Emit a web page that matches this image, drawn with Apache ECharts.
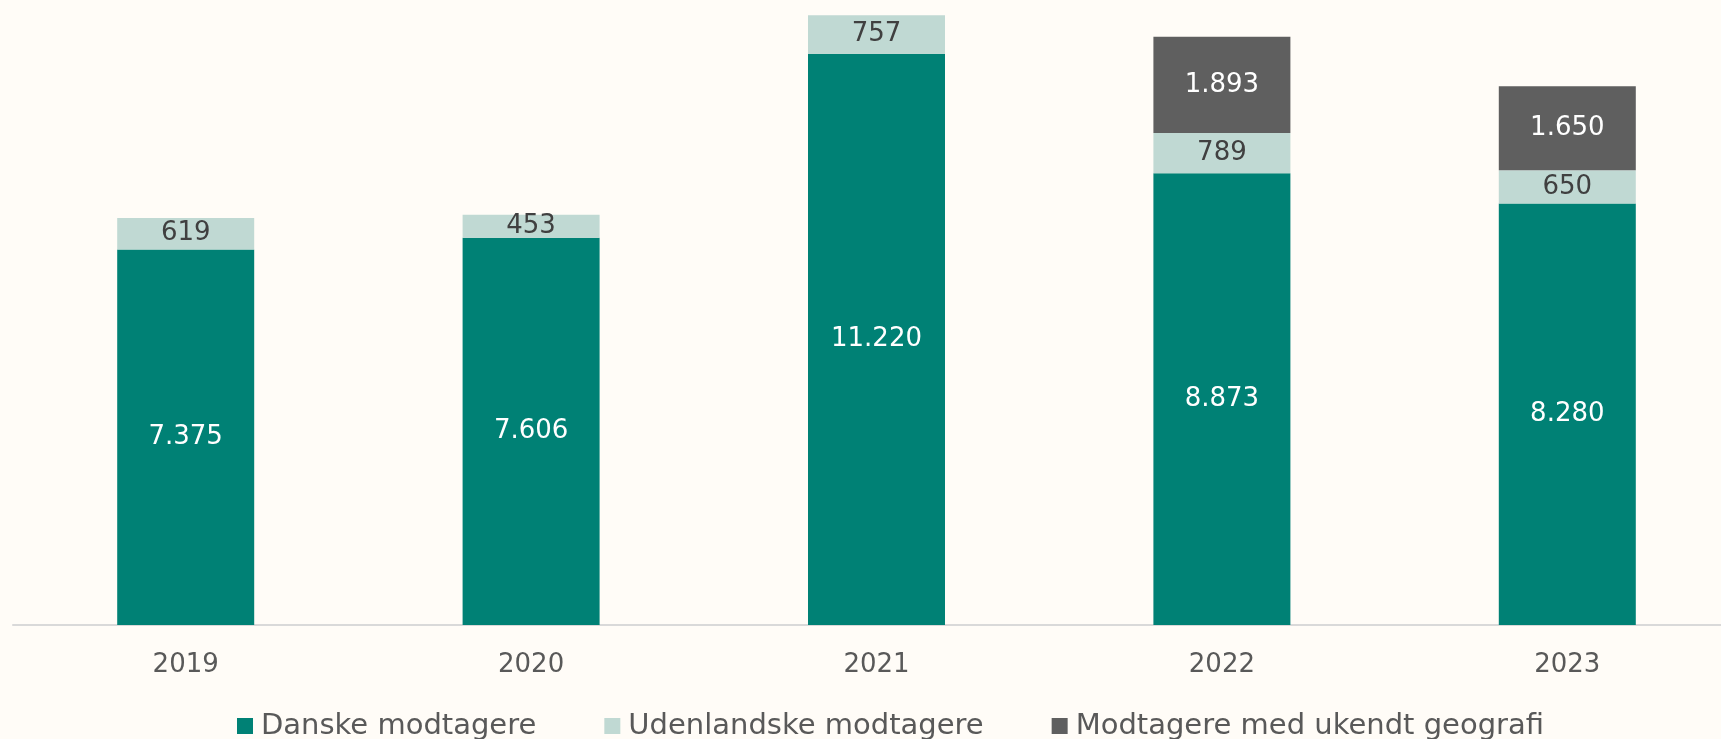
<!DOCTYPE html>
<html>
<head>
<meta charset="utf-8">
<script src="https://cdn.jsdelivr.net/npm/echarts@6/dist/echarts.min.js"></script>
<style>
  html, body { margin: 0; padding: 0; background: #fffcf7; }
  #chart { width: 1721px; height: 739px; }
</style>
</head>
<body>
<div id="chart"></div>
<script>
// data
const years = ['2019', '2020', '2021', '2022', '2023']
const danske = [7375, 7606, 11220, 8873, 8280]
const udenlandske = [619, 453, 757, 789, 650]
const ukendt = ['-', '-', '-', 1893, 1650]

const FONT = 'DejaVu Sans'

// danish thousands separator
const fmt = (v) => String(v).replace(/\B(?=(\d{3})+(?!\d))/g, '.')

const chart = echarts.init(document.getElementById('chart'))

const labelFor = (color) => ({
  show: true,
  position: 'inside',
  color: color,
  fontFamily: FONT,
  fontSize: 26,
  formatter: (p) => fmt(p.value),
})

chart.setOption({
  backgroundColor: '#fffcf7',
  animation: false,
  grid: {
    left: 13,
    top: 14,
    width: 1727,
    bottom: 114,
    outerBoundsMode: 'none',
    containLabel: false,
  },
  legend: {
    top: 705,
    left: 232,
    itemWidth: 16,
    itemHeight: 16,
    itemGap: 68,
    icon: 'rect',
    textStyle: {
      color: '#595959',
      fontFamily: FONT,
      fontSize: 29,
      lineHeight: 32,
      padding: [0, 0, 0, 3],
    },
    data: ['Danske modtagere', 'Udenlandske modtagere', 'Modtagere med ukendt geografi'],
  },
  xAxis: {
    type: 'category',
    data: years,
    axisLine: { lineStyle: { color: '#d9d9d9', width: 2 } },
    axisTick: { show: false },
    axisLabel: {
      color: '#595959',
      fontFamily: FONT,
      fontSize: 26,
      margin: 27,
    },
  },
  yAxis: {
    type: 'value',
    min: 0,
    max: 12000,
    show: false,
    splitLine: { show: false },
  },
  series: [
    {
      name: 'Danske modtagere',
      type: 'bar',
      stack: 'total',
      barWidth: 137,
      data: danske,
      itemStyle: { color: '#008175' },
      label: labelFor('#ffffff'),
    },
    {
      name: 'Udenlandske modtagere',
      type: 'bar',
      stack: 'total',
      barWidth: 137,
      data: udenlandske,
      itemStyle: { color: '#c0d9d3' },
      label: labelFor('#404040'),
    },
    {
      name: 'Modtagere med ukendt geografi',
      type: 'bar',
      stack: 'total',
      barWidth: 137,
      data: ukendt,
      itemStyle: { color: '#5f5f5f' },
      label: labelFor('#ffffff'),
    },
  ],
})

window.addEventListener('resize', () => chart.resize())
</script>
</body>
</html>
